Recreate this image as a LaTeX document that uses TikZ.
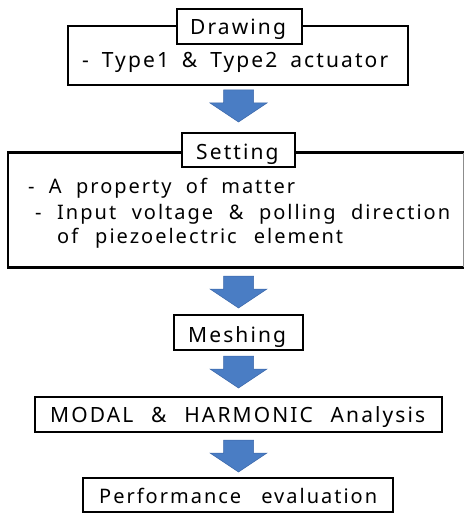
\documentclass[tikz,border=0pt]{standalone}
\usepackage{fontspec}
\setmainfont{Noto Sans}[LetterSpace=10]
\usetikzlibrary{positioning}
\definecolor{arrowblue}{HTML}{4A7DC4}
\definecolor{arrowedge}{HTML}{3A66A8}
% set a line of text to a fixed width by stretching its word spaces
\newcommand{\spreadto}[2]{\makebox[#1][s]{#2}}
\tikzset{
  frame/.style={draw=black, line width=2.6pt, fill=white, inner sep=0pt},
  label/.style={inner sep=0pt, anchor=base west, font=\fontsize{21}{24}\selectfont},
  smalllabel/.style={label, font=\fontsize{20}{23}\selectfont},
  downarrow/.pic={
    \fill[arrowblue, draw=arrowedge, line width=0.5pt]
      (-15,0) -- (15,0) -- (15,13) -- (28.5,13) -- (0,32) -- (-28.5,13) -- (-15,13) -- cycle;
  }
}
\begin{document}
\begin{tikzpicture}[x=1pt, y=-1pt]
  \useasboundingbox (0,0) rectangle (465,513);
  \clip (0,0) rectangle (465,513);

  % Step 1: drawing
  \node[frame, minimum width=340pt, minimum height=59pt] (drawbox) at (238,55.5) {};
  \node[frame, minimum width=125pt, minimum height=35pt] (drawtitle) at (239.5,26.5) {};
  \node[label] (drawname) at (190,35) {Drawing};
  \node[label] (drawtext) at (82,68) {\spreadto{306pt}{- Type1 \& Type2 actuator}};

  \pic at (238.5,90) {downarrow};

  % Step 2: setting (frame runs off the right edge)
  \node[inner sep=0pt, minimum width=456pt, minimum height=114pt] (setbox) at (236,210) {};
  \draw[line width=2.6pt] (setbox.north east) -- (setbox.north west) -- (setbox.south west) -- (setbox.south east);
  \draw[black!45, line width=0.8pt] ([xshift=-1pt]setbox.north east) -- ([xshift=-1pt]setbox.south east);
  \node[frame, minimum width=113pt, minimum height=34pt] (settitle) at (238.5,150) {};
  \node[label] (setname) at (196,159) {Setting};
  \node[smalllabel] (setline1) at (28,193) {\spreadto{267pt}{- A property of matter}};
  \node[smalllabel] (setline2) at (35,219) {\spreadto{415pt}{- Input voltage \& polling direction}};
  \node[smalllabel] (setline3) at (57,243) {\spreadto{286pt}{of piezoelectric element}};

  \pic at (238.5,276) {downarrow};

  % Step 3: meshing
  \node[frame, minimum width=129pt, minimum height=35pt] (meshbox) at (238.5,332.5) {};
  \node[label] (meshname) at (188,342) {Meshing};

  \pic at (238.5,356) {downarrow};

  % Step 4: analysis
  \node[frame, minimum width=407pt, minimum height=35pt] (anabox) at (238.5,414.5) {};
  \node[label] (ananame) at (50,422) {\spreadto{375pt}{MODAL \& HARMONIC Analysis}};

  \pic at (238.5,440) {downarrow};

  % Step 5: evaluation
  \node[frame, minimum width=310pt, minimum height=34pt] (evalbox) at (238,495) {};
  \node[smalllabel] (evalname) at (99,503) {\spreadto{278pt}{Performance evaluation}};
\end{tikzpicture}
\end{document}
